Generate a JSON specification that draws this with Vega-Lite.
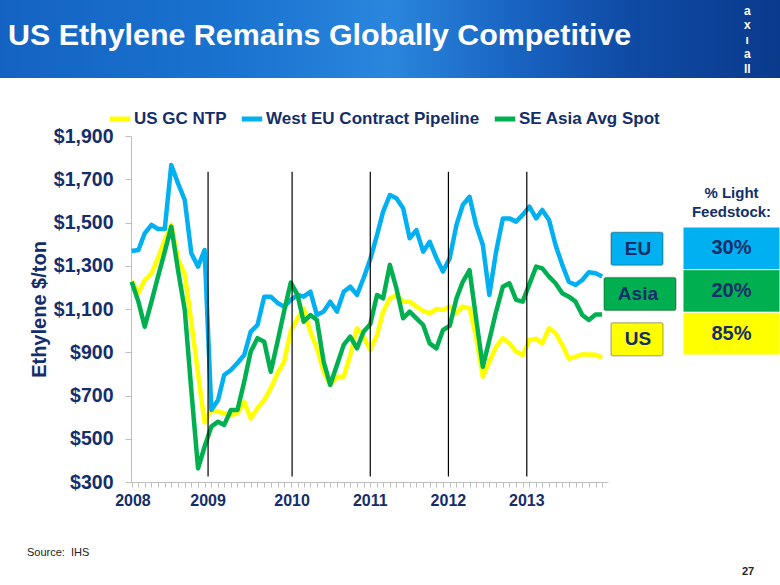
{
  "$schema": "https://vega.github.io/schema/vega-lite/v6.json",
  "padding": 0,
  "background": "white",
  "spacing": 58,
  "bounds": "flush",
  "resolve": {"scale": {"color": "independent"}, "legend": {"color": "independent"}},
  "config": {
    "font": "Liberation Sans",
    "view": {"stroke": null},
    "axisY": {"labelFontSize": 19.5, "labelFontWeight": "bold", "labelColor": "#142E6B", "labelPadding": 12, "tickSize": 6, "tickColor": "#BFBFBF", "domainColor": "#BFBFBF", "grid": false, "titleFontSize": 20, "titleFontWeight": "bold", "titleColor": "#142E6B", "titlePadding": 4},
    "axisX": {"labels": false, "tickSize": 5, "tickColor": "#BFBFBF", "domainColor": "#BFBFBF", "grid": false, "title": null}
  },
  "datasets": {
    "prices": [
      {"month": "2008-01", "us": 1230, "eu": 1368, "asia": 1226},
      {"month": "2008-02", "us": 1175, "eu": 1373, "asia": 1134},
      {"month": "2008-03", "us": 1234, "eu": 1450, "asia": 1018},
      {"month": "2008-04", "us": 1265, "eu": 1489, "asia": 1134},
      {"month": "2008-05", "us": 1335, "eu": 1470, "asia": 1250},
      {"month": "2008-06", "us": 1419, "eu": 1470, "asia": 1365},
      {"month": "2008-07", "us": 1489, "eu": 1766, "asia": 1481},
      {"month": "2008-08", "us": 1330, "eu": 1681, "asia": 1280},
      {"month": "2008-09", "us": 1260, "eu": 1604, "asia": 1095},
      {"month": "2008-10", "us": 1040, "eu": 1358, "asia": 725},
      {"month": "2008-11", "us": 800, "eu": 1296, "asia": 363},
      {"month": "2008-12", "us": 575, "eu": 1373, "asia": 463},
      {"month": "2009-01", "us": 635, "eu": 633, "asia": 556},
      {"month": "2009-02", "us": 625, "eu": 679, "asia": 579},
      {"month": "2009-03", "us": 618, "eu": 795, "asia": 564},
      {"month": "2009-04", "us": 610, "eu": 818, "asia": 633},
      {"month": "2009-05", "us": 618, "eu": 850, "asia": 633},
      {"month": "2009-06", "us": 671, "eu": 887, "asia": 764},
      {"month": "2009-07", "us": 594, "eu": 995, "asia": 903},
      {"month": "2009-08", "us": 641, "eu": 1026, "asia": 965},
      {"month": "2009-09", "us": 679, "eu": 1157, "asia": 949},
      {"month": "2009-10", "us": 733, "eu": 1157, "asia": 810},
      {"month": "2009-11", "us": 803, "eu": 1128, "asia": 949},
      {"month": "2009-12", "us": 856, "eu": 1111, "asia": 1088},
      {"month": "2010-01", "us": 1000, "eu": 1142, "asia": 1222},
      {"month": "2010-02", "us": 1057, "eu": 1165, "asia": 1165},
      {"month": "2010-03", "us": 1103, "eu": 1157, "asia": 1041},
      {"month": "2010-04", "us": 995, "eu": 1180, "asia": 1072},
      {"month": "2010-05", "us": 918, "eu": 1072, "asia": 1049},
      {"month": "2010-06", "us": 810, "eu": 1088, "asia": 856},
      {"month": "2010-07", "us": 749, "eu": 1134, "asia": 749},
      {"month": "2010-08", "us": 787, "eu": 1088, "asia": 841},
      {"month": "2010-09", "us": 787, "eu": 1180, "asia": 934},
      {"month": "2010-10", "us": 887, "eu": 1203, "asia": 972},
      {"month": "2010-11", "us": 1011, "eu": 1165, "asia": 918},
      {"month": "2010-12", "us": 972, "eu": 1242, "asia": 995},
      {"month": "2011-01", "us": 910, "eu": 1330, "asia": 1030},
      {"month": "2011-02", "us": 980, "eu": 1442, "asia": 1165},
      {"month": "2011-03", "us": 1088, "eu": 1550, "asia": 1149},
      {"month": "2011-04", "us": 1149, "eu": 1627, "asia": 1304},
      {"month": "2011-05", "us": 1165, "eu": 1612, "asia": 1196},
      {"month": "2011-06", "us": 1134, "eu": 1566, "asia": 1057},
      {"month": "2011-07", "us": 1134, "eu": 1427, "asia": 1088},
      {"month": "2011-08", "us": 1111, "eu": 1465, "asia": 1057},
      {"month": "2011-09", "us": 1091, "eu": 1365, "asia": 1026},
      {"month": "2011-10", "us": 1080, "eu": 1411, "asia": 941},
      {"month": "2011-11", "us": 1100, "eu": 1335, "asia": 918},
      {"month": "2011-12", "us": 1095, "eu": 1273, "asia": 1003},
      {"month": "2012-01", "us": 1111, "eu": 1335, "asia": 1022},
      {"month": "2012-02", "us": 1080, "eu": 1489, "asia": 1149},
      {"month": "2012-03", "us": 1111, "eu": 1581, "asia": 1226},
      {"month": "2012-04", "us": 1103, "eu": 1619, "asia": 1280},
      {"month": "2012-05", "us": 972, "eu": 1489, "asia": 1057},
      {"month": "2012-06", "us": 787, "eu": 1396, "asia": 833},
      {"month": "2012-07", "us": 856, "eu": 1165, "asia": 957},
      {"month": "2012-08", "us": 926, "eu": 1365, "asia": 1088},
      {"month": "2012-09", "us": 965, "eu": 1519, "asia": 1203},
      {"month": "2012-10", "us": 941, "eu": 1519, "asia": 1219},
      {"month": "2012-11", "us": 903, "eu": 1504, "asia": 1142},
      {"month": "2012-12", "us": 887, "eu": 1535, "asia": 1134},
      {"month": "2013-01", "us": 957, "eu": 1573, "asia": 1215},
      {"month": "2013-02", "us": 962, "eu": 1519, "asia": 1296},
      {"month": "2013-03", "us": 941, "eu": 1558, "asia": 1288},
      {"month": "2013-04", "us": 1011, "eu": 1512, "asia": 1250},
      {"month": "2013-05", "us": 988, "eu": 1396, "asia": 1219},
      {"month": "2013-06", "us": 934, "eu": 1304, "asia": 1173},
      {"month": "2013-07", "us": 870, "eu": 1226, "asia": 1157},
      {"month": "2013-08", "us": 880, "eu": 1211, "asia": 1134},
      {"month": "2013-09", "us": 890, "eu": 1234, "asia": 1072},
      {"month": "2013-10", "us": 890, "eu": 1270, "asia": 1049},
      {"month": "2013-11", "us": 888, "eu": 1265, "asia": 1075},
      {"month": "2013-12", "us": 875, "eu": 1250, "asia": 1075}
    ],
    "years": [
      {"year": "2008", "at": "2008-01-07"},
      {"year": "2009", "at": "2008-12-17"},
      {"year": "2010", "at": "2010-01-07"},
      {"year": "2011", "at": "2011-01-01"},
      {"year": "2012", "at": "2011-12-26"},
      {"year": "2013", "at": "2012-12-20"}
    ],
    "regions": [
      {"region": "EU", "share": "30%"},
      {"region": "Asia", "share": "20%"},
      {"region": "US", "share": "85%"}
    ]
  },
  "vconcat": [
    {
      "width": 780,
      "height": 78,
      "data": {"values": [{"title": "US Ethylene Remains Globally Competitive"}]},
      "layer": [
        {
          "mark": {"type": "rect", "color": {"gradient": "linear", "x1": 0, "y1": 0, "x2": 1, "y2": 0, "stops": [
            {"offset": 0, "color": "#1463C2"},
            {"offset": 0.3, "color": "#1A73D0"},
            {"offset": 0.5, "color": "#2A86DD"},
            {"offset": 0.65, "color": "#1A66C4"},
            {"offset": 0.8, "color": "#0F4CA6"},
            {"offset": 1, "color": "#0A3A8C"}]}},
          "encoding": {
            "x": {"datum": 0, "type": "quantitative", "scale": {"domain": [0, 1], "nice": false, "zero": false}, "axis": null},
            "x2": {"datum": 1},
            "y": {"datum": 0, "type": "quantitative", "scale": {"domain": [0, 1], "nice": false, "zero": false}, "axis": null},
            "y2": {"datum": 1}
          }
        },
        {
          "mark": {"type": "text", "align": "left", "baseline": "alphabetic", "fontSize": 30.4, "fontWeight": "bold", "color": "white"},
          "encoding": {
            "x": {"datum": 0.0103, "type": "quantitative"},
            "y": {"datum": 0.423, "type": "quantitative"},
            "text": {"field": "title"}
          }
        },
        {
          "mark": {"type": "text", "align": "center", "baseline": "middle", "fontSize": 12, "fontWeight": "bold", "color": "white", "lineHeight": 14.5, "text": ["a", "x", "ı", "a", "ll"]},
          "encoding": {
            "x": {"datum": 0.958, "type": "quantitative"},
            "y": {"datum": 0.86, "type": "quantitative"}
          }
        }
      ]
    },
    {
      "spacing": 0,
      "bounds": "flush",
      "resolve": {"scale": {"color": "independent"}, "legend": {"color": "independent"}},
      "hconcat": [
        {
          "width": 131,
          "height": 346,
          "data": {"values": [{"source": "Source:\u00a0\u00a0IHS"}]},
          "mark": {"type": "text", "align": "left", "baseline": "middle", "fontSize": 11, "color": "#222222"},
          "encoding": {
            "x": {"datum": 0.206, "type": "quantitative", "scale": {"domain": [0, 1], "nice": false, "zero": false}, "axis": null},
            "y": {"datum": -0.205, "type": "quantitative", "scale": {"domain": [0, 1], "nice": false, "zero": false}, "axis": null},
            "text": {"field": "source"}
          }
        },
        {
          "width": 477,
          "height": 346,
          "layer": [
            {
              "data": {"name": "prices"},
              "mark": {"type": "line", "strokeWidth": 4.5, "strokeJoin": "round"},
              "encoding": {
                "x": {"field": "month", "type": "temporal", "scale": {"type": "utc", "domain": [{"year": 2007, "month": 12, "date": 29, "utc": true}, {"year": 2013, "month": 12, "date": 28, "utc": true}]}, "axis": {"tickCount": {"interval": "month", "step": 1}}},
                "y": {"field": "us", "type": "quantitative", "title": "Ethylene $/ton", "scale": {"domain": [300, 1900], "nice": false, "zero": false}, "axis": {"values": [300, 500, 700, 900, 1100, 1300, 1500, 1700, 1900], "format": "$,d"}},
                "color": {"datum": "US GC NTP", "type": "nominal", "scale": {"domain": ["US GC NTP", "West EU Contract Pipeline", "SE Asia Avg Spot"], "range": ["#FFFF00", "#00B0F0", "#00B050"]},
                  "legend": {"orient": "none", "legendX": -24, "legendY": -30, "direction": "horizontal", "title": null, "symbolType": "stroke", "symbolStrokeWidth": 5, "symbolSize": 420, "labelFontSize": 17, "labelFontWeight": "bold", "labelColor": "#142E6B", "columnPadding": 4, "labelOffset": 1, "labelLimit": 400}}
              }
            },
            {
              "data": {"name": "prices"},
              "mark": {"type": "line", "strokeWidth": 4.5, "strokeJoin": "round"},
              "encoding": {
                "x": {"field": "month", "type": "temporal", "scale": {"type": "utc"}},
                "y": {"field": "eu", "type": "quantitative", "title": "Ethylene $/ton"},
                "color": {"datum": "West EU Contract Pipeline", "type": "nominal"}
              }
            },
            {
              "data": {"name": "prices"},
              "mark": {"type": "line", "strokeWidth": 4.5, "strokeJoin": "round"},
              "encoding": {
                "x": {"field": "month", "type": "temporal", "scale": {"type": "utc"}},
                "y": {"field": "asia", "type": "quantitative", "title": "Ethylene $/ton"},
                "color": {"datum": "SE Asia Avg Spot", "type": "nominal"}
              }
            },
            {
              "data": {"name": "years"},
              "transform": [{"filter": "datum.year !== '2008'"}],
              "mark": {"type": "rule", "color": "#000000", "strokeWidth": 1.2},
              "encoding": {
                "x": {"field": "at", "type": "temporal", "scale": {"type": "utc"}},
                "y": {"datum": 325, "type": "quantitative"},
                "y2": {"datum": 1735}
              }
            },
            {
              "data": {"name": "years"},
              "mark": {"type": "text", "fontSize": 16, "fontWeight": "bold", "color": "#142E6B", "baseline": "middle", "dy": 19},
              "encoding": {
                "x": {"field": "at", "type": "temporal", "scale": {"type": "utc"}},
                "y": {"datum": 300, "type": "quantitative"},
                "text": {"field": "year"}
              }
            }
          ]
        },
        {
          "width": 172,
          "height": 346,
          "data": {"name": "regions"},
          "resolve": {"scale": {"y": "independent"}},
          "layer": [
            {
              "mark": {"type": "rect", "stroke": "white", "strokeWidth": 1},
              "encoding": {
                "x": {"datum": 0.436, "type": "quantitative", "scale": {"domain": [0, 1], "nice": false, "zero": false}, "axis": null},
                "x2": {"datum": 1},
                "y": {"field": "region", "type": "nominal", "scale": {"domain": ["EU", "Asia", "US"], "range": [91, 219], "paddingInner": 0, "paddingOuter": 0}, "axis": null},
                "color": {"field": "region", "type": "nominal", "scale": {"domain": ["EU", "Asia", "US"], "range": ["#00B0F0", "#00B050", "#FFFF00"]}, "legend": null}
              }
            },
            {
              "mark": {"type": "text", "fontSize": 20, "fontWeight": "bold", "color": "#142E6B", "baseline": "middle"},
              "encoding": {
                "x": {"datum": 0.718, "type": "quantitative"},
                "y": {"field": "region", "type": "nominal", "scale": {"domain": ["EU", "Asia", "US"], "range": [91, 219], "paddingInner": 0, "paddingOuter": 0}, "axis": null},
                "text": {"field": "share"}
              }
            },
            {
              "transform": [{"filter": "datum.region !== 'Asia'"}],
              "mark": {"type": "bar", "height": 33, "cornerRadius": 2, "stroke": "#000000", "strokeOpacity": 0.25, "strokeWidth": 1.5},
              "encoding": {
                "x": {"datum": 0.0174, "type": "quantitative"},
                "x2": {"datum": 0.3198},
                "y": {"field": "region", "type": "nominal", "scale": {"domain": ["EU", "Asia", "US"], "range": [90, 226], "paddingInner": 0, "paddingOuter": 0}, "axis": null},
                "color": {"field": "region", "type": "nominal", "legend": null}
              }
            },
            {
              "transform": [{"filter": "datum.region === 'Asia'"}],
              "mark": {"type": "bar", "height": 33, "cornerRadius": 2, "stroke": "#000000", "strokeOpacity": 0.25, "strokeWidth": 1.5},
              "encoding": {
                "x": {"datum": -0.0233, "type": "quantitative"},
                "x2": {"datum": 0.3953},
                "y": {"field": "region", "type": "nominal", "scale": {"domain": ["EU", "Asia", "US"], "range": [90, 226], "paddingInner": 0, "paddingOuter": 0}, "axis": null},
                "color": {"field": "region", "type": "nominal", "legend": null}
              }
            },
            {
              "mark": {"type": "text", "fontSize": 19, "fontWeight": "bold", "color": "#142E6B", "baseline": "middle"},
              "encoding": {
                "x": {"datum": 0.174, "type": "quantitative"},
                "y": {"field": "region", "type": "nominal", "scale": {"domain": ["EU", "Asia", "US"], "range": [90, 226], "paddingInner": 0, "paddingOuter": 0}, "axis": null},
                "text": {"field": "region"}
              }
            },
            {
              "data": {"values": [{"header": ["% Light", "Feedstock:"]}]},
              "mark": {"type": "text", "fontSize": 15, "fontWeight": "bold", "color": "#142E6B", "baseline": "middle", "lineHeight": 19, "dy": -55},
              "encoding": {
                "x": {"datum": 0.718, "type": "quantitative"},
                "y": {"datum": "EU", "type": "nominal", "scale": {"domain": ["EU", "Asia", "US"], "range": [91, 219], "paddingInner": 0, "paddingOuter": 0}, "axis": null},
                "text": {"field": "header"}
              }
            },
            {
              "data": {"values": [{"page": "27"}]},
              "mark": {"type": "text", "align": "center", "baseline": "middle", "fontSize": 11, "fontWeight": "bold", "color": "#222222"},
              "encoding": {
                "x": {"datum": 0.814, "type": "quantitative"},
                "y": {"datum": -0.26, "type": "quantitative", "scale": {"domain": [0, 1], "nice": false, "zero": false}, "axis": null},
                "text": {"field": "page"}
              }
            }
          ]
        }
      ]
    }
  ]
}
